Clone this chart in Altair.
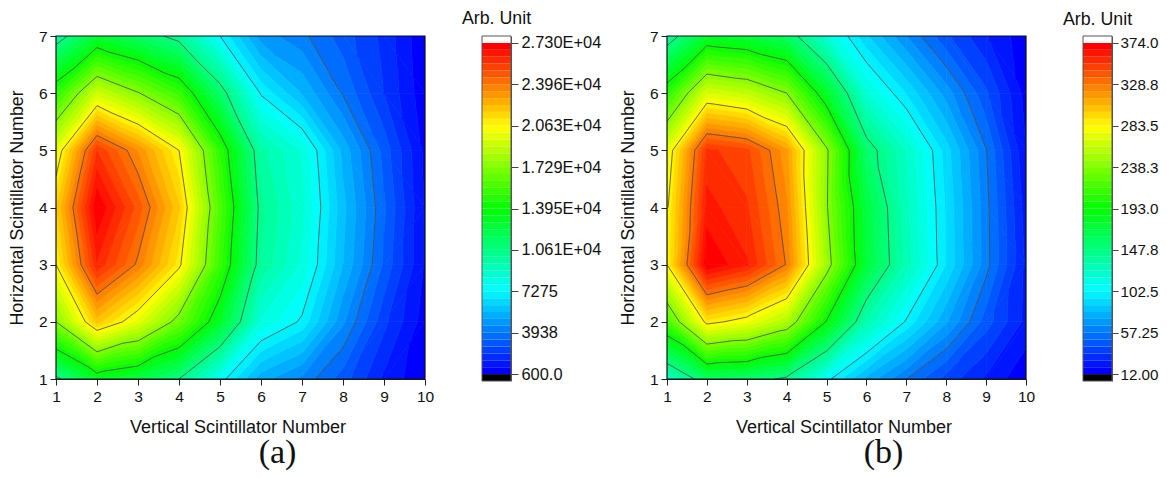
import altair as alt
import pandas as pd

alt.data_transformers.disable_max_rows()

X_VALUES = [1, 2, 3, 4, 5, 6, 7, 8, 9, 10]
Y_VALUES = [1, 2, 3, 4, 5, 6, 7]

# Grid values, rows y = 1 .. 7
GRID_A = [
    [10279, 13049, 12215, 10613, 7609, 5273, 4338, 3103, 1601, 667],
    [17288, 21960, 19824, 16720, 12915, 8276, 7142, 4605, 2436, 867],
    [20625, 26098, 23796, 20892, 15319, 9978, 8276, 5606, 3270, 1101],
    [21626, 27300, 24864, 21827, 15852, 10245, 8543, 5773, 3470, 1101],
    [19791, 25631, 23362, 20625, 14985, 9711, 8310, 5439, 3170, 1001],
    [14951, 19223, 17388, 15319, 11280, 7175, 5573, 3871, 2269, 767],
    [9845, 12615, 11447, 10112, 7275, 4772, 4104, 3103, 2102, 667],
]
GRID_B = [
    [122.4, 159.5, 156.3, 144.1, 105.7, 77.6, 57.3, 39.2, 25.6, 13.4],
    [215.6, 288.5, 276.7, 253.2, 191.6, 131.9, 101.1, 73.5, 45.9, 24.7],
    [283.5, 374.0, 360.0, 327.8, 247.3, 172.6, 129.7, 94.8, 60.4, 25.6],
    [281.2, 362.2, 352.7, 322.4, 240.1, 170.4, 127.4, 93.9, 60.0, 23.3],
    [272.2, 353.6, 346.0, 316.1, 241.4, 156.3, 124.2, 91.2, 57.7, 19.7],
    [205.2, 268.6, 259.5, 238.3, 179.0, 118.8, 94.4, 69.0, 43.7, 16.5],
    [136.0, 177.6, 172.2, 159.1, 118.3, 88.5, 64.9, 43.7, 27.8, 14.3],
]
LABELS_A = ["600.0", "3938", "7275", "1.061E+04", "1.395E+04", "1.729E+04", "2.063E+04", "2.396E+04", "2.730E+04"]
LABELS_B = ["12.00", "57.25", "102.5", "147.8", "193.0", "238.3", "283.5", "328.8", "374.0"]
RANGE_A = (600.0, 27300.0)
RANGE_B = (12.0, 374.0)
MAJORS = 8
SUB = 6
N_BANDS = MAJORS * SUB
FONT = "Liberation Sans"


def band_color(i):
    t = i / (N_BANDS - 1) * 4
    stops = [(0, 0, 255), (0, 255, 255), (0, 255, 0), (255, 255, 0), (255, 0, 0)]
    k = min(int(t), 3)
    f = t - k
    c = [round(stops[k][j] + (stops[k + 1][j] - stops[k][j]) * f) for j in range(3)]
    return "#%02x%02x%02x" % tuple(c)


def triangles(grid):
    out = []
    for j in range(len(Y_VALUES) - 1):
        for i in range(len(X_VALUES) - 1):
            a = (X_VALUES[i], Y_VALUES[j], grid[j][i])
            b = (X_VALUES[i + 1], Y_VALUES[j], grid[j][i + 1])
            c = (X_VALUES[i + 1], Y_VALUES[j + 1], grid[j + 1][i + 1])
            d = (X_VALUES[i], Y_VALUES[j + 1], grid[j + 1][i])
            top = max(a[2], b[2], c[2], d[2])
            if top in (a[2], c[2]):
                out += [(a, b, d), (b, c, d)]
            else:
                out += [(a, b, c), (a, c, d)]
    return out


def clip(poly, level, keep_above):
    res = []
    n = len(poly)
    for k in range(n):
        p, q = poly[k], poly[(k + 1) % n]
        pin = p[2] >= level if keep_above else p[2] <= level
        qin = q[2] >= level if keep_above else q[2] <= level
        if pin:
            res.append(p)
        if pin != qin:
            t = (level - p[2]) / (q[2] - p[2])
            res.append((p[0] + t * (q[0] - p[0]), p[1] + t * (q[1] - p[1]), level))
    return res


def contour_tables(grid, rng):
    lo, hi = rng
    step = (hi - lo) / N_BANDS
    rows, segs = [], []
    pid = 0
    for tri in triangles(grid):
        for b in range(N_BANDS):
            poly = clip(list(tri), lo + b * step, True)
            if len(poly) >= 3:
                poly = clip(poly, lo + (b + 1) * step, False)
            if len(poly) < 3:
                continue
            for o, p in enumerate(poly + [poly[0]]):
                rows.append({"x": round(p[0], 4), "y": round(p[1], 4), "pid": pid, "o": o, "c": band_color(b)})
            pid += 1
        for m in range(1, MAJORS):
            lev = lo + m * (hi - lo) / MAJORS
            pts = []
            for k in range(3):
                p, q = tri[k], tri[(k + 1) % 3]
                if (p[2] - lev) * (q[2] - lev) <= 0 and p[2] != q[2]:
                    t = (lev - p[2]) / (q[2] - p[2])
                    pts.append((p[0] + t * (q[0] - p[0]), p[1] + t * (q[1] - p[1])))
            if len(pts) >= 2:
                segs.append({"x": pts[0][0], "y": pts[0][1], "x2": pts[-1][0], "y2": pts[-1][1]})
    return pd.DataFrame(rows), pd.DataFrame(segs)


def panel(grid, rng, width, tag):
    polys, segs = contour_tables(grid, rng)
    x = alt.X(
        "x:Q",
        scale=alt.Scale(domain=[1, 10], nice=False, zero=False),
        axis=alt.Axis(values=X_VALUES, title="Vertical Scintillator Number", format="d", grid=False,
                      titleFontSize=18, titleFontWeight="normal", titleFont=FONT, titlePadding=14,
                      titleX=width / 2 - 3,
                      labelFont=FONT, labelFontSize=15.5, labelColor="#111", labelPadding=4,
                      tickSize=6, tickColor="#222", domainColor="#222", titleColor="#111", labelFlush=False),
    )
    y = alt.Y(
        "y:Q",
        scale=alt.Scale(domain=[1, 7], nice=False, zero=False),
        axis=alt.Axis(values=Y_VALUES, title="Horizontal Scintillator Number", format="d", grid=False,
                      titleFontSize=17.8, titleFontWeight="normal", titleFont=FONT, titlePadding=12,
                      labelFont=FONT, labelFontSize=15.5, labelColor="#111", labelPadding=3,
                      tickSize=6, tickColor="#222", domainColor="#222", titleColor="#111", labelFlush=False),
    )
    fills = alt.Chart(polys).mark_line(clip=True, strokeWidth=0.7, interpolate="linear").encode(
        x=x, y=y,
        detail="pid:N",
        order="o:Q",
        fill=alt.Fill("c:N", scale=None),
        stroke=alt.Stroke("c:N", scale=None),
    )
    lines = alt.Chart(segs).mark_rule(clip=True, color="#4a4a4a", strokeWidth=0.8).encode(
        x=x, y=y, x2="x2:Q", y2="y2:Q"
    )
    frame = alt.Chart(pd.DataFrame({"x": [X_VALUES[0]], "x2": [X_VALUES[-1]], "y": [Y_VALUES[0]], "y2": [Y_VALUES[-1]]})).mark_rect(
        fillOpacity=0, stroke="#111", strokeWidth=1.2
    ).encode(x=x, y=y, x2="x2:Q", y2="y2:Q")
    return alt.layer(fills, lines, frame).properties(
        width=width,
        height=343,
        title=alt.TitleParams(tag, orient="bottom", font="Liberation Serif", fontSize=34,
                              fontWeight="normal", color="#111", offset=-1, anchor="middle", dx=37),
    )


def colorbar(rng, labels, label_size, tick_size, label_pad):
    lo, hi = rng
    step = (hi - lo) / N_BANDS
    major = (hi - lo) / MAJORS
    rows = [{"a": lo - step, "b": lo, "c": "#000000"}]
    for i in range(N_BANDS):
        rows.append({"a": lo + i * step, "b": lo + (i + 1) * step, "c": band_color(i)})
    rows.append({"a": hi, "b": hi + step, "c": "#ffffff"})
    ticks = [lo + i * major for i in range(MAJORS + 1)]
    expr = "[" + ",".join("'%s'" % s for s in labels) + "][round(datum.index*%d)]" % MAJORS
    y = alt.Y("a:Q", scale=alt.Scale(domain=[lo - step, hi + step], nice=False, zero=False),
              axis=alt.Axis(orient="right", values=ticks, labelExpr=expr, title=None, grid=False,
                            labelFont=FONT, labelFontSize=label_size, labelColor="#111", labelPadding=label_pad,
                            tickSize=tick_size, tickColor="#444", domainColor="#555", labelFlush=False))
    bands = alt.Chart(pd.DataFrame(rows)).mark_rect().encode(
        y=y, y2="b:Q", fill=alt.Fill("c:N", scale=None),
    )
    frame = alt.Chart(pd.DataFrame({"a": [lo - step], "b": [hi + step]})).mark_rect(
        fillOpacity=0, stroke="#555", strokeWidth=1
    ).encode(y=y, y2="b:Q")
    return alt.layer(bands, frame).properties(
        width=29,
        height=345,
        title=alt.TitleParams("Arb. Unit", font=FONT, fontSize=17.8, fontWeight="normal",
                              color="#111", offset=7, anchor="middle"),
    )


spacer = alt.Chart(pd.DataFrame({"a": [0]})).mark_point(opacity=0).encode(
    x=alt.X("a:Q", axis=None), y=alt.Y("a:Q", axis=None)
).properties(width=42, height=343, view=alt.ViewConfig(stroke=None))

chart = alt.hconcat(
    panel(GRID_A, RANGE_A, 369, "(a)"), colorbar(RANGE_A, LABELS_A, 16.4, 7, 3), spacer,
    panel(GRID_B, RANGE_B, 359, "(b)"), colorbar(RANGE_B, LABELS_B, 15.2, 6, 2),
    spacing=57, bounds="flush",
).properties(padding={"left": 0, "top": 2, "right": 0, "bottom": 1.5}
).configure_view(stroke=None)

chart.save("out.html", embed_options={"renderer": "svg", "actions": False})
